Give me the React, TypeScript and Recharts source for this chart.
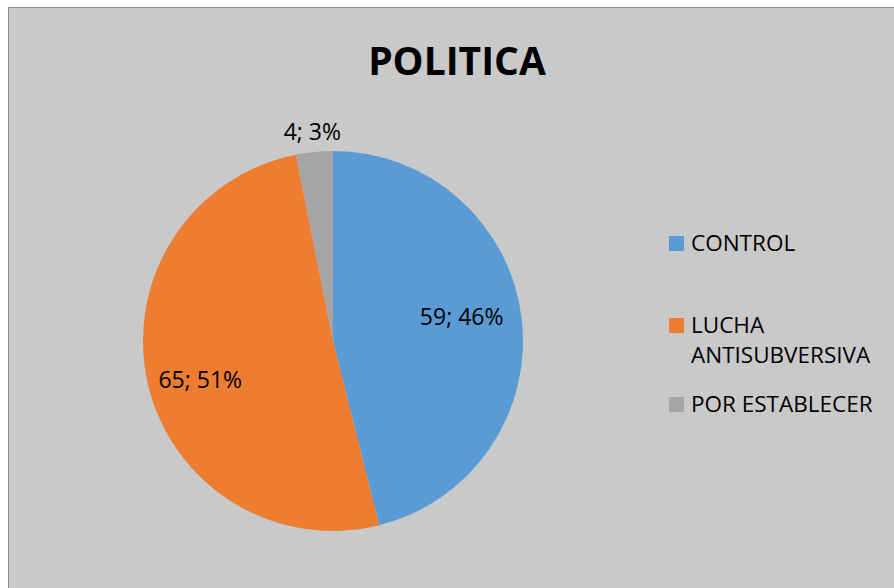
import React from 'react';
import { PieChart, Pie, Cell, Legend } from 'recharts';

const categories = ['CONTROL', 'LUCHA ANTISUBVERSIVA', 'POR ESTABLECER'];
const values = [59, 65, 4];
const percentLabels = ['46%', '51%', '3%'];
const colors = ['#5b9bd5', '#ed7d31', '#a5a5a5'];

const data = categories.map((name, i) => ({ name, value: values[i], pct: percentLabels[i] }));

const FONT = '"Open Sans", "Liberation Sans", sans-serif';
const RAD = Math.PI / 180;

// label placement tweaks (best-fit style, like the original)
const labelRadius = [0.69, 0.727, 1.11];
const labelAngleShift = [4, 3.4, 0];

const renderLabel = (props: any) => {
  const { cx, cy, midAngle, outerRadius, index } = props;
  const r = outerRadius * labelRadius[index];
  const a = (midAngle + labelAngleShift[index]) * RAD;
  const x = cx + r * Math.cos(-a);
  const y = cy + r * Math.sin(-a);
  const d = data[index];
  return (
    <text x={x} y={y} textAnchor="middle" dominantBaseline="central" fill="#000" fontSize={23} fontFamily={FONT}>
      {`${d.value}; ${d.pct}`}
    </text>
  );
};

const LegendContent = () => (
  <div style={{ fontFamily: FONT, fontSize: 22.5, color: '#000', lineHeight: '30px' }}>
    {data.map((d, i) => (
      <div key={d.name} style={{ display: 'flex', alignItems: 'flex-start', marginBottom: i === 0 ? 52 : 19 }}>
        <span style={{ width: 15, height: 15, background: colors[i], marginTop: 8, marginRight: 7, flexShrink: 0 }} />
        <span style={{ width: 210 }}>
          {d.name === 'LUCHA ANTISUBVERSIVA' ? (
            <>LUCHA<br />ANTISUBVERSIVA</>
          ) : (
            d.name
          )}
        </span>
      </div>
    ))}
  </div>
);

export default function App() {
  return (
    <div style={{ position: 'fixed', left: 0, top: 0, width: 894, height: 588, overflow: 'hidden', background: '#fff' }}>
      <div
        style={{
          position: 'absolute',
          left: 8,
          top: 7,
          width: 900,
          height: 600,
          background: '#c9c9c9',
          borderTop: '1px solid #8c8c8c',
          borderLeft: '1px solid #8c8c8c',
        }}
      >
        <PieChart width={900} height={600} margin={{ top: 0, right: 0, bottom: 0, left: 0 }}>
          <text x={448} y={51} textAnchor="middle" dominantBaseline="central" fontFamily={FONT} fontWeight="bold" fontSize={39} fill="#000">
            POLITICA
          </text>
          <Pie
            data={data}
            dataKey="value"
            nameKey="name"
            cx={324}
            cy={333}
            outerRadius={190}
            startAngle={90}
            endAngle={-270}
            stroke="none"
            label={renderLabel}
            labelLine={false}
            isAnimationActive={false}
          >
            {data.map((d, i) => (
              <Cell key={d.name} fill={colors[i]} />
            ))}
          </Pie>
          <Legend content={<LegendContent />} wrapperStyle={{ left: 660, top: 220, width: 232 }} />
        </PieChart>
      </div>
    </div>
  );
}
